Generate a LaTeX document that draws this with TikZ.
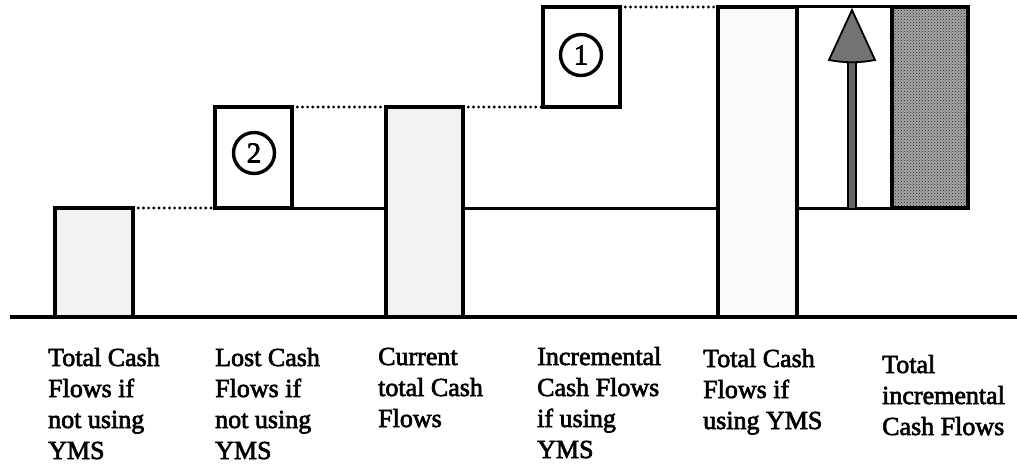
\documentclass[tikz,border=0pt]{standalone}
\usepackage{fontspec}
\setmainfont{Liberation Serif}
\newfontfamily\heavyserif[FakeBold=2.5]{Liberation Serif}
\usetikzlibrary{patterns}
\begin{document}
\begin{tikzpicture}[x=1pt,y=-1pt,
  bar/.style={draw=black,line width=3.8pt},
  light/.style={fill=black!5},
  dots/.style={line width=3.2pt,dash pattern=on 0pt off 5.2pt,line cap=round},
  thinline/.style={line width=3pt},
  lbl/.style={anchor=base west,inner sep=0pt,font=\heavyserif\fontsize{26}{31}\selectfont},
  num/.style={draw=black,circle,line width=3.4pt,minimum size=41pt,inner sep=0pt,font=\heavyserif\fontsize{29}{30}\selectfont}]
\useasboundingbox (0,0) rectangle (1017,468);
% connecting level lines
\draw[dots] (133,208) -- (215,208);
\draw[thinline] (292,208) -- (386,208);
\draw[dots] (292,107) -- (386,107);
\draw[thinline] (463,208) -- (718,208);
\draw[dots] (463,107) -- (543,107);
\draw[dots] (620,7) -- (718,7);
\draw[thinline] (797,7) -- (892,7);
\draw[thinline] (797,208) -- (892,208);
% bars
\draw[bar,light] (55,317) rectangle (133,208);
\draw[bar] (215,208) rectangle (292,107);
\draw[bar,light] (386,317) rectangle (463,107);
\draw[bar] (543,107) rectangle (620,7);
\draw[bar,fill=black!2] (718,317) rectangle (797,7);
\fill[black!35] (892,7) rectangle (968,208);
\fill[pattern=crosshatch dots,pattern color=black!85] (892,7) rectangle (968,208);
\draw[bar] (892,7) rectangle (968,208);
% arrow
\draw[line width=1.5pt,fill=black!60] (848,209) -- (848,60) -- (856,60) -- (856,209) -- cycle;
\draw[line width=1.8pt,fill=black!55] (852,10) -- (875,60) .. controls (860,63) and (844,63) .. (829,60) -- cycle;
% baseline
\draw[line width=4pt] (10,317) -- (1017,317);
% numbers
\node[num] (n2) at (254,153) {2};
\node[num] (n1) at (581,55) {1};
% labels
\node[lbl] (l1) at (48,366) {\begin{tabular}[t]{@{}l@{}}Total Cash\\Flows if\\not using\\YMS\end{tabular}};
\node[lbl] (l2) at (215,366) {\begin{tabular}[t]{@{}l@{}}Lost Cash\\Flows if\\not using\\YMS\end{tabular}};
\node[lbl] (l3) at (378,365) {\begin{tabular}[t]{@{}l@{}}Current\\total Cash\\Flows\end{tabular}};
\node[lbl] (l4) at (537,365) {\begin{tabular}[t]{@{}l@{}}Incremental\\Cash Flows\\if using\\YMS\end{tabular}};
\node[lbl] (l5) at (703,367) {\begin{tabular}[t]{@{}l@{}}Total Cash\\Flows if\\using YMS\end{tabular}};
\node[lbl] (l6) at (882,373) {\begin{tabular}[t]{@{}l@{}}Total\\incremental\\Cash Flows\end{tabular}};
\end{tikzpicture}
\end{document}
